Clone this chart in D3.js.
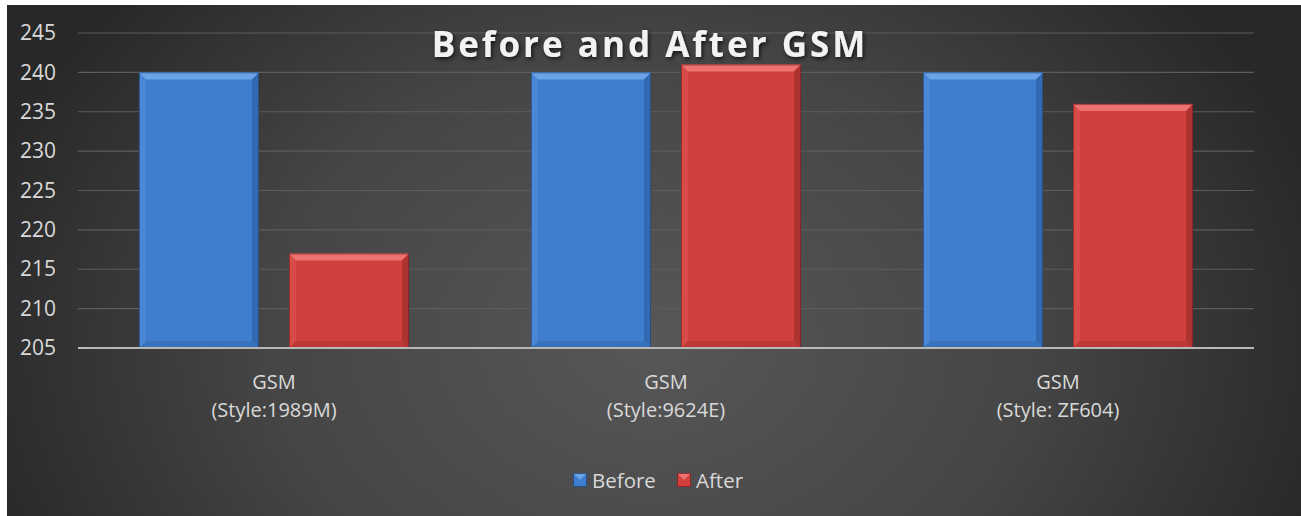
<!DOCTYPE html>
<html>
<head>
<meta charset="UTF-8">
<title>Before and After GSM</title>
<script src="https://cdn.jsdelivr.net/npm/d3@7/dist/d3.min.js"></script>
<style>
  html, body { margin: 0; padding: 0; background: #fff; }
  svg { display: block; }
  text { font-family: "Open Sans", sans-serif; }
</style>
</head>
<body>
<svg id="chart" width="1301" height="516"></svg>
<script>
// data
var categories = ["GSM\n(Style:1989M)", "GSM\n(Style:9624E)", "GSM\n(Style: ZF604)"];
var seriesNames = ["Before", "After"];
var beforeValues = [240, 240, 240];
var afterValues = [217, 241, 236];
var yTicks = [205, 210, 215, 220, 225, 230, 235, 240, 245];

var colors = {
  Before: { face: "#3f7ecf", top: "#6aa3e8", left: "#5a93dc", right: "#2c5c9c", bottom: "#2b5a99", edge: "#1c3d6a" },
  After:  { face: "#d2403d", top: "#ee7370", left: "#e05a57", right: "#962a28", bottom: "#9a2c2a", edge: "#6a1c1a" }
};

var svg = d3.select("#chart");
var W = 1301, H = 516;

// background
var defs = svg.append("defs");
var rg = defs.append("radialGradient").attr("id", "bg")
  .attr("gradientUnits", "userSpaceOnUse")
  .attr("cx", 650).attr("cy", 340).attr("r", 700)
  .attr("gradientTransform", "translate(650,340) scale(1,0.75) translate(-650,-340)");
rg.append("stop").attr("offset", "0").attr("stop-color", "#575757");
rg.append("stop").attr("offset", "0.55").attr("stop-color", "#454545");
rg.append("stop").attr("offset", "1").attr("stop-color", "#282828");

var shadow = defs.append("filter").attr("id", "tshadow").attr("x", "-10%").attr("y", "-30%").attr("width", "120%").attr("height", "160%");
shadow.append("feDropShadow").attr("dx", 1.5).attr("dy", 2).attr("stdDeviation", 2).attr("flood-color", "#000").attr("flood-opacity", 0.7);

svg.append("rect").attr("x", 7).attr("y", 5).attr("width", W - 7).attr("height", H - 5).attr("fill", "url(#bg)");

var margin = { left: 78, right: 47, top: 33, bottom: 168 };
var x0 = d3.scaleBand().domain(d3.range(categories.length)).range([margin.left, W - margin.right]).paddingInner(0).paddingOuter(0);
var y = d3.scaleLinear().domain([205, 245]).range([H - margin.bottom, margin.top]);

// gridlines
svg.append("g").selectAll("line").data(yTicks.slice(1)).enter().append("line")
  .attr("x1", margin.left).attr("x2", W - margin.right)
  .attr("y1", function (d) { return y(d); }).attr("y2", function (d) { return y(d); })
  .attr("stroke", "#5c5c5c").attr("stroke-width", 1.2);

// y axis labels
var yAxis = d3.axisLeft(y).tickValues(yTicks).tickSize(0).tickPadding(22);
var ya = svg.append("g").attr("transform", "translate(" + margin.left + ",0)").call(yAxis);
ya.select(".domain").remove();
ya.selectAll("text").attr("fill", "#d9d9d9").style("font-size", "21px").style("font-family", "'Open Sans', sans-serif");

// bars
var barW = 120, gap = 30;
function bevelBar(g, x, w, y1, y2, c) {
  var b = 7;
  var h = y2 - y1;
  g.append("rect").attr("x", x).attr("y", y1).attr("width", w).attr("height", h).attr("fill", c.face);
  // top bevel
  g.append("polygon").attr("points", [[x, y1], [x + w, y1], [x + w - b, y1 + b], [x + b, y1 + b]].join(" ")).attr("fill", c.top);
  // left bevel
  g.append("polygon").attr("points", [[x, y1], [x + b, y1 + b], [x + b, y2 - b], [x, y2]].join(" ")).attr("fill", c.left).attr("opacity", 0.45);
  // right bevel
  g.append("polygon").attr("points", [[x + w, y1], [x + w, y2], [x + w - b, y2 - b], [x + w - b, y1 + b]].join(" ")).attr("fill", c.right).attr("opacity", 0.6);
  // bottom bevel
  g.append("polygon").attr("points", [[x, y2], [x + b, y2 - b], [x + w - b, y2 - b], [x + w, y2]].join(" ")).attr("fill", c.bottom).attr("opacity", 0.35);
  g.append("rect").attr("x", x + 0.5).attr("y", y1 + 0.5).attr("width", w - 1).attr("height", h - 1)
    .attr("fill", "none").attr("stroke", c.edge).attr("stroke-width", 1).attr("opacity", 0.6);
}

var barsG = svg.append("g");
categories.forEach(function (cat, i) {
  var cx = x0(i) + x0.bandwidth() / 2;
  var vals = [beforeValues[i], afterValues[i]];
  vals.forEach(function (v, j) {
    var bx = j === 0 ? cx - gap / 2 - barW : cx + gap / 2;
    bevelBar(barsG, bx, barW, y(v), y(205), colors[seriesNames[j]]);
  });
});

// x axis line
svg.append("line").attr("x1", margin.left).attr("x2", W - margin.right)
  .attr("y1", y(205)).attr("y2", y(205)).attr("stroke", "#b8b8b8").attr("stroke-width", 2);

// category labels, one text per line
categories.forEach(function (cat, i) {
  var cx = x0(i) + x0.bandwidth() / 2;
  cat.split("\n").forEach(function (l, k) {
    svg.append("text").attr("x", cx).attr("y", 389 + k * 27.5).attr("text-anchor", "middle")
      .attr("fill", "#d9d9d9").style("font-size", "20px").text(l);
  });
});

// title
svg.append("text").attr("x", 650).attr("y", 57).attr("text-anchor", "middle")
  .attr("fill", "#f2f2f2").attr("filter", "url(#tshadow)")
  .style("font-family", "'Open Sans', sans-serif").style("font-weight", "bold")
  .style("font-size", "35px").style("letter-spacing", "3px")
  .text("Before and After GSM");

// legend
var legendItems = [
  { name: "Before", x: 573 },
  { name: "After", x: 677 }
];
var lg = svg.append("g");
legendItems.forEach(function (d) {
  var c = colors[d.name];
  var s = 14, lx = d.x, ly = 473;
  lg.append("rect").attr("x", lx).attr("y", ly).attr("width", s).attr("height", s).attr("fill", c.face);
  lg.append("polygon").attr("points", [[lx, ly], [lx + s, ly], [lx + s / 2, ly + s / 2]].join(" ")).attr("fill", c.top);
  lg.append("rect").attr("x", lx + 0.5).attr("y", ly + 0.5).attr("width", s - 1).attr("height", s - 1).attr("fill", "none").attr("stroke", c.edge).attr("opacity", 0.7);
  lg.append("text").attr("x", lx + s + 5).attr("y", ly + s + 1).attr("fill", "#d9d9d9").style("font-size", "20.5px").text(d.name);
});
</script>
</body>
</html>
